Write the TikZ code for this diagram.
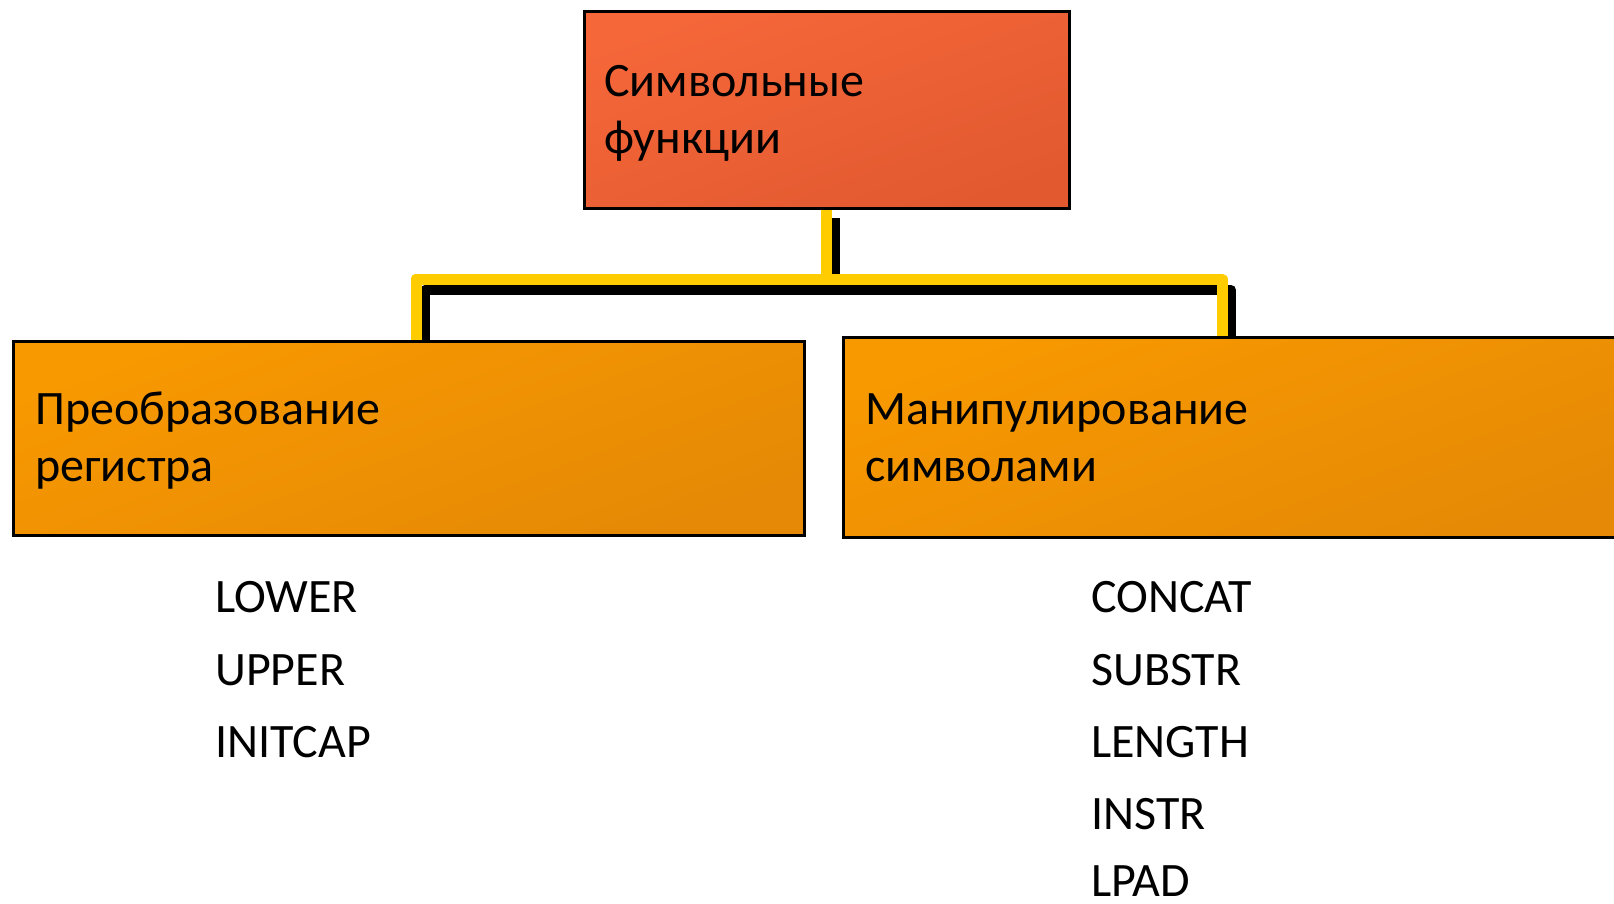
\documentclass[tikz,border=0pt]{standalone}
\usepackage{fontspec}
\setmainfont{Carlito}
\definecolor{topA}{RGB}{245,103,57}
\definecolor{topB}{RGB}{226,89,48}
\definecolor{orA}{RGB}{248,153,0}
\definecolor{orB}{RGB}{229,137,6}
\definecolor{conn}{RGB}{255,204,0}
\begin{document}
\begin{tikzpicture}[x=1pt,y=-1pt,
  box/.style={draw=black, line width=3pt, rectangle, inner sep=0pt, anchor=north west},
  topbox/.style={box, top color=topA, bottom color=topB, shading angle=20},
  orbox/.style={box, top color=orA, bottom color=orB, shading angle=20},
  lbl/.style={anchor=base west, inner sep=0pt, font=\fontsize{48pt}{57pt}\selectfont},
  conline/.style={draw=conn, line width=11pt, line join=round},
  shadow/.style={draw=black, line width=10pt, line join=round}]
\useasboundingbox (0,0) rectangle (1614,903);
% junction coordinates
\coordinate (tj) at (826,207);
\coordinate (mj) at (826,279);
\coordinate (lj) at (416,340);
\coordinate (rj) at (1222,336);
% shadow
\begin{scope}[transform canvas={shift={(9,11)}}]
  \draw[shadow] (tj) -- (mj);
  \draw[shadow] (lj) -- (lj |- mj) -- (rj |- mj) -- (rj);
\end{scope}
% yellow connectors
\draw[conline] (tj) -- (mj);
\draw[conline] (lj) -- (lj |- mj) -- (rj |- mj) -- (rj);
% boxes
\node[topbox, minimum width=485pt, minimum height=197pt] (top) at (583,10) {};
\node[orbox, minimum width=791pt, minimum height=194pt] (left) at (12,340) {};
\node[orbox, minimum width=800pt, minimum height=200pt] (right) at (842,336) {};
% box texts
\node[lbl] (t1) at (604,96) {Символьные};
\node[lbl] (t2) at (604,153) {функции};
\node[lbl] (l1) at (35,424) {Преобразование};
\node[lbl] (l2) at (35,481) {регистра};
\node[lbl] (r1) at (865,424) {Манипулирование};
\node[lbl] (r2) at (865,481) {символами};
% lists
\node[lbl] (a1) at (215,612) {LOWER};
\node[lbl] (a2) at (215,685) {UPPER};
\node[lbl] (a3) at (215,757) {INITCAP};
\node[lbl] (b1) at (1091,612) {CONCAT};
\node[lbl] (b2) at (1091,685) {SUBSTR};
\node[lbl] (b3) at (1091,757) {LENGTH};
\node[lbl] (b4) at (1091,829) {INSTR};
\node[lbl] (b5) at (1091,896) {LPAD};
\end{tikzpicture}
\end{document}
